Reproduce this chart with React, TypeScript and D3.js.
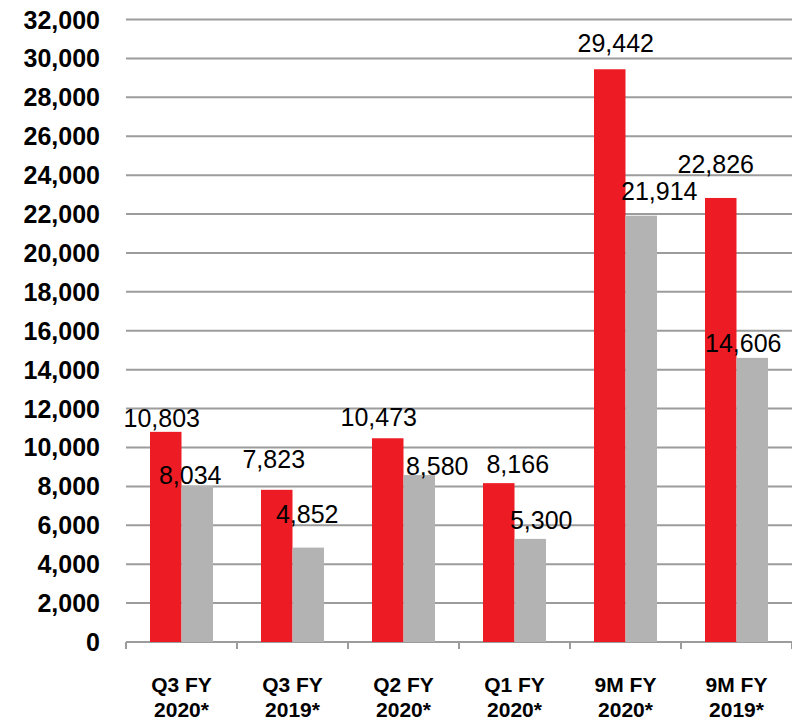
import React from "react";
import * as d3 from "d3";

const categories = [
  ["Q3 FY", "2020*"],
  ["Q3 FY", "2019*"],
  ["Q2 FY", "2020*"],
  ["Q1 FY", "2020*"],
  ["9M FY", "2020*"],
  ["9M FY", "2019*"],
];
const seriesA = [10803, 7823, 10473, 8166, 29442, 22826];
const seriesB = [8034, 4852, 8580, 5300, 21914, 14606];
const yTicks = [0, 2000, 4000, 6000, 8000, 10000, 12000, 14000, 16000, 18000, 20000, 22000, 24000, 26000, 28000, 30000, 32000];

// label nudges (px) relative to bar-top centre, mimicking the original label placement
const nudgeA = [[-4, -5], [-3, -22], [-9, -12], [19, -10], [6, -17], [-5, -25]];
const nudgeB = [[-7, -2], [-1, -25], [18, 0], [11, -10], [18, -16], [-9, -6]];

const W = 792;
const H = 722;
const left = 126;
const right = 792;
const bottom = 642;
const top = 19.5;

export default function App() {
  const keys = categories.map((c, i) => String(i));
  const x = d3.scaleBand<string>().domain(keys).range([left, right]).padding(0);
  const inner = d3
    .scaleBand<string>()
    .domain(["a", "b"])
    .range([0, x.bandwidth()])
    .paddingInner(0)
    .paddingOuter(0.762);
  const y = d3.scaleLinear().domain([0, 32000]).range([bottom, top]);
  const fmt = d3.format(",");
  const series = [
    { key: "a", values: seriesA, color: "#ED1C24", nudge: nudgeA },
    { key: "b", values: seriesB, color: "#B3B3B3", nudge: nudgeB },
  ];
  const tickXs = keys.map((k) => x(k)!).concat([right]);

  return (
    <svg
      width={W}
      height={H}
      style={{ position: "absolute", left: 0, top: 0, background: "#fff" }}
      fontFamily="'Liberation Sans', Arial, sans-serif"
    >
      {yTicks.map((t) => (
        <g key={t}>
          <line x1={left} x2={right} y1={y(t)} y2={y(t)} stroke="#9c9c9c" strokeWidth={2} />
          <text x={100} y={y(t) + 9} textAnchor="end" fontSize={25} fontWeight="bold" fill="#000">
            {fmt(t)}
          </text>
        </g>
      ))}
      {tickXs.map((tx, i) => (
        <line key={i} x1={tx} x2={tx} y1={bottom} y2={bottom + 7} stroke="#9c9c9c" strokeWidth={2} />
      ))}
      {series.map((s) =>
        s.values.map((v, i) => {
          const bx = x(keys[i])! + inner(s.key)!;
          return (
            <rect
              key={s.key + i}
              x={bx}
              y={y(v)}
              width={inner.bandwidth()}
              height={bottom - y(v)}
              fill={s.color}
            />
          );
        })
      )}
      {series.map((s) =>
        s.values.map((v, i) => {
          const cx = x(keys[i])! + inner(s.key)! + inner.bandwidth() / 2;
          return (
            <text
              key={"l" + s.key + i}
              x={cx + s.nudge[i][0]}
              y={y(v) + s.nudge[i][1]}
              textAnchor="middle"
              fontSize={25}
              fill="#000"
            >
              {fmt(v)}
            </text>
          );
        })
      )}
      {categories.map((c, i) => (
        <text
          key={"c" + i}
          x={x(keys[i])! + x.bandwidth() / 2}
          y={692}
          textAnchor="middle"
          fontSize={21}
          fontWeight="bold"
          fill="#000"
        >
          <tspan x={x(keys[i])! + x.bandwidth() / 2} y={692}>{c[0]}</tspan>
          <tspan x={x(keys[i])! + x.bandwidth() / 2} y={717}>{c[1]}</tspan>
        </text>
      ))}
    </svg>
  );
}
